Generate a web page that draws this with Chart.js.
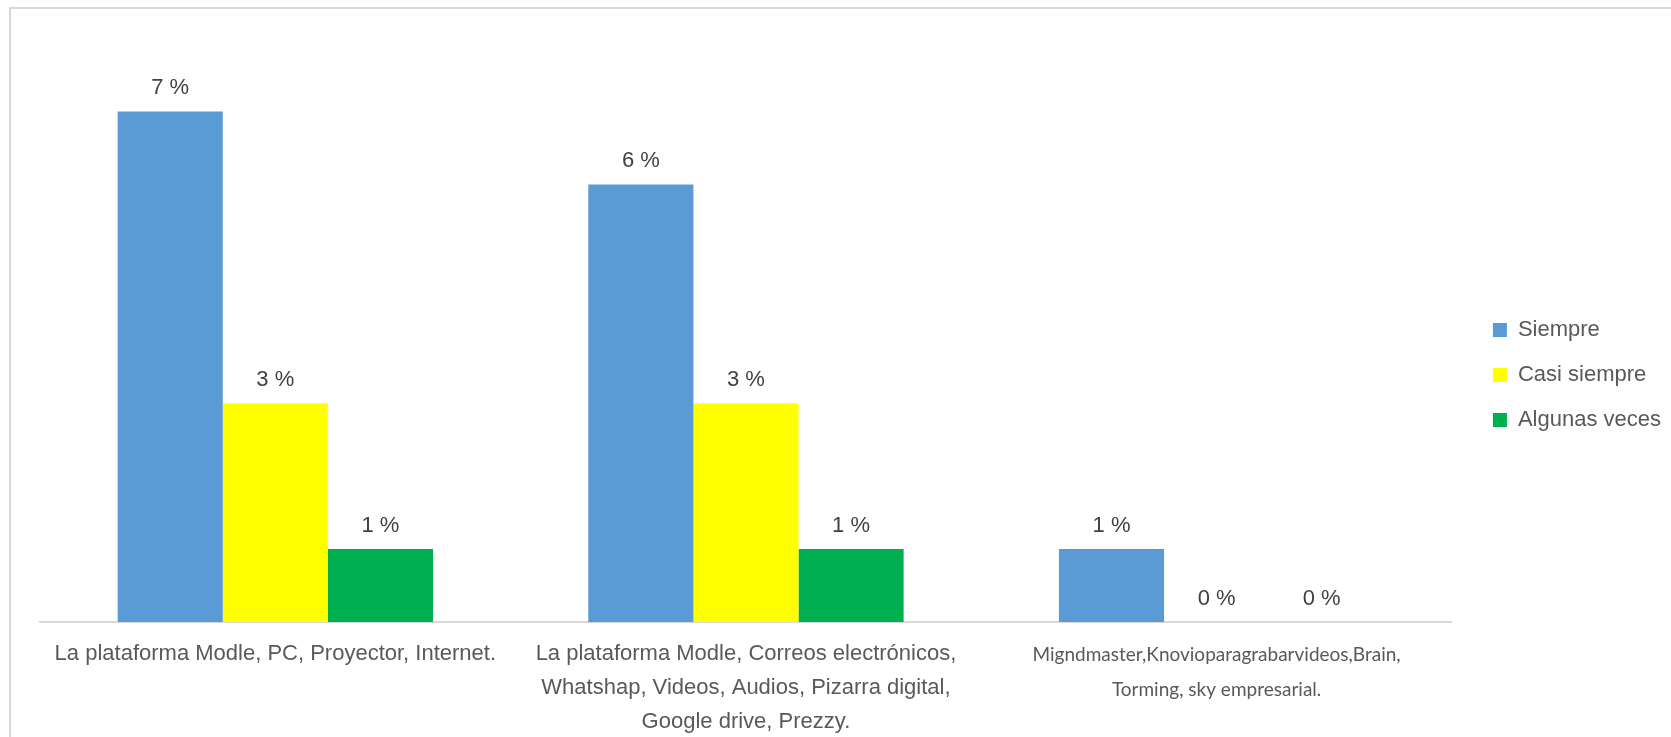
<!DOCTYPE html>
<html>
<head>
<meta charset="utf-8">
<script src="https://cdn.jsdelivr.net/npm/chart.js@4/dist/chart.umd.min.js"></script>
<style>
  html, body { margin: 0; padding: 0; background: #ffffff; overflow: hidden; }
  #wrap { position: relative; width: 1671px; height: 737px; }
</style>
</head>
<body>
<div id="wrap"><canvas id="chart"></canvas></div>
<script>
// categories (multi-line labels as in the original)
const categories = [
  ['La plataforma Modle, PC, Proyector, Internet.'],
  ['La plataforma Modle, Correos electrónicos,', 'Whatshap, Videos, Audios, Pizarra digital,', 'Google drive, Prezzy.'],
  ['Migndmaster,Knovioparagrabarvideos,Brain,', 'Torming, sky empresarial.']
];
const seriesNames = ['Siempre', 'Casi siempre', 'Algunas veces'];
const siempre = [7, 6, 1];
const casiSiempre = [3, 3, 0];
const algunasVeces = [1, 1, 0];
const seriesColors = ['#5B9BD5', '#FFFF00', '#00B050'];

// frame around the chart (only top and left edges show)
const framePlugin = {
  id: 'frame',
  beforeDraw(chart) {
    const ctx = chart.ctx;
    ctx.save();
    ctx.strokeStyle = '#d9d9d9';
    ctx.lineWidth = 2;
    ctx.beginPath();
    ctx.moveTo(10, chart.height);
    ctx.lineTo(10, 8);
    ctx.lineTo(chart.width, 8);
    ctx.stroke();
    ctx.restore();
  }
};

// percent labels above bars
const valueLabels = {
  id: 'valueLabels',
  afterDatasetsDraw(chart) {
    const ctx = chart.ctx;
    ctx.save();
    ctx.font = '22px "Liberation Sans", Arial, sans-serif';
    ctx.fillStyle = '#404040';
    ctx.textAlign = 'center';
    ctx.textBaseline = 'alphabetic';
    chart.data.datasets.forEach((ds, i) => {
      const meta = chart.getDatasetMeta(i);
      meta.data.forEach((bar, j) => {
        ctx.fillText(ds.data[j] + ' %', bar.x, bar.y - 17);
      });
    });
    ctx.restore();
  }
};

const allSeries = [siempre, casiSiempre, algunasVeces];

new Chart(document.getElementById('chart'), {
  type: 'bar',
  data: {
    labels: categories,
    datasets: allSeries.map((values, i) => ({
      label: seriesNames[i],
      data: values,
      backgroundColor: seriesColors[i],
      borderWidth: 0,
      barPercentage: 1,
      categoryPercentage: 0.67
    }))
  },
  options: {
    responsive: true,
    maintainAspectRatio: false,
    animation: false,
    layout: { padding: { left: 40, top: 13, right: 0, bottom: 0 } },
    scales: {
      x: {
        grid: { display: false, drawTicks: false },
        border: { display: true, color: '#d9d9d9', width: 2 },
        ticks: {
          autoSkip: false,
          maxRotation: 0,
          minRotation: 0,
          padding: 15,
          color: '#595959',
          font: (ctx) => ctx.index === 2
            ? { family: 'Lato', size: 19, lineHeight: 1.85 }
            : { family: '"Liberation Sans", Arial, sans-serif', size: 22, lineHeight: 1.55 }
        },
        afterFit: (scale) => { scale.height = 115; }
      },
      y: {
        position: 'right',
        min: 0,
        max: 8.35,
        grid: { display: false, drawTicks: false },
        border: { display: false },
        ticks: { display: false },
        afterFit: (scale) => { scale.width = 18; }
      }
    },
    plugins: {
      legend: {
        position: 'right',
        align: 'center',
        maxWidth: 202,
        labels: {
          boxWidth: 14,
          boxHeight: 14,
          padding: 23,
          color: '#595959',
          font: { family: '"Liberation Sans", Arial, sans-serif', size: 22 }
        }
      },
      tooltip: { enabled: false }
    }
  },
  plugins: [framePlugin, valueLabels]
});
</script>
</body>
</html>
